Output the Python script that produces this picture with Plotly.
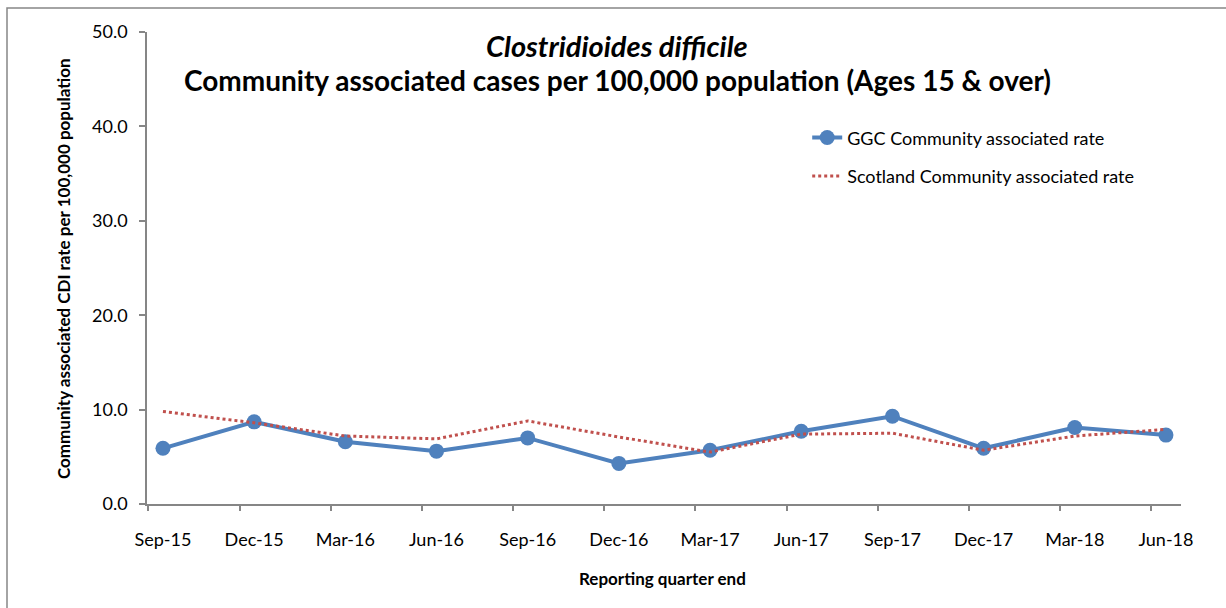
import plotly.graph_objects as go

quarters = ["Sep-15", "Dec-15", "Mar-16", "Jun-16", "Sep-16", "Dec-16",
            "Mar-17", "Jun-17", "Sep-17", "Dec-17", "Mar-18", "Jun-18"]
ggc_rate = [5.9, 8.7, 6.6, 5.6, 7.0, 4.3, 5.7, 7.7, 9.3, 5.9, 8.1, 7.3]
scotland_rate = [9.8, 8.6, 7.2, 6.9, 8.8, 7.1, 5.5, 7.4, 7.5, 5.7, 7.2, 7.9]
y_ticks = [0, 10, 20, 30, 40, 50]

FONT = "Lato"
AXIS_COL = "#868686"
idx = list(range(len(quarters)))

fig = go.Figure()
fig.add_trace(go.Scatter(
    x=idx, y=ggc_rate, mode="lines+markers", name="GGC Community associated rate",
    line=dict(color="#4F81BD", width=4), marker=dict(size=15, color="#4F81BD"),
    legendgroup="a"))
fig.add_trace(go.Scatter(
    x=idx, y=scotland_rate, mode="lines", name="Scotland Community associated rate",
    line=dict(color="#C0504D", width=3, dash="dot"), legendgroup="b"))
# invisible trace to carry the offset tick-mark axis
fig.add_trace(go.Scatter(x=[i - 0.16 for i in idx], y=[None] * len(idx), xaxis="x2",
                         showlegend=False, hoverinfo="skip"))

xr = [-0.175, 11.165]
fig.update_layout(
    width=1226, height=608,
    margin=dict(l=147, r=45, t=32, b=104),
    paper_bgcolor="white", plot_bgcolor="white",
    font=dict(family=FONT, color="black"),
    xaxis=dict(range=xr, tickmode="array", tickvals=idx, ticktext=quarters,
               showgrid=False, zeroline=False, showline=True, linecolor=AXIS_COL,
               linewidth=1.5, ticks="", tickfont=dict(size=18), ticklabelstandoff=19),
    xaxis2=dict(range=xr, overlaying="x", side="bottom", tickmode="array",
                tickvals=[i - 0.16 for i in idx], showticklabels=False,
                ticks="outside", ticklen=6, tickcolor=AXIS_COL, tickwidth=1.5,
                showgrid=False, zeroline=False, showline=False),
    yaxis=dict(range=[0, 50], tickmode="array", tickvals=y_ticks,
               ticktext=[f"{v:.1f}" for v in y_ticks], showgrid=False, zeroline=False,
               showline=True, linecolor=AXIS_COL, linewidth=1.5, ticks="outside",
               ticklen=6, tickcolor=AXIS_COL, tickwidth=1.5, tickfont=dict(size=18),
               ticklabelstandoff=8),
    legend=dict(x=0.6385, y=0.815, xanchor="left", yanchor="top",
                font=dict(size=18), tracegroupgap=12, bgcolor="rgba(0,0,0,0)"),
    showlegend=True,
)

fig.add_annotation(text="<b><i>Clostridioides difficile</i></b>", xref="paper", yref="paper",
                   x=(617 - 147) / 1034, y=(504 - 45) / 472, xanchor="center", yanchor="middle",
                   showarrow=False, font=dict(size=29))
fig.add_annotation(text="<b>Community associated cases per 100,000 population (Ages 15 &amp; over)</b>",
                   xref="paper", yref="paper", x=(617 - 147) / 1034, y=(504 - 80) / 472,
                   xanchor="center", yanchor="middle", showarrow=False, font=dict(size=28))
fig.add_annotation(text="<b>Community associated CDI rate per 100,000 population</b>",
                   xref="paper", yref="paper", x=(63 - 147) / 1034, y=(504 - 269) / 472,
                   xanchor="center", yanchor="middle", textangle=-90, showarrow=False,
                   font=dict(size=17))
fig.add_annotation(text="<b>Reporting quarter end</b>", xref="paper", yref="paper",
                   x=(662 - 147) / 1034, y=(504 - 578) / 472, xanchor="center",
                   yanchor="middle", showarrow=False, font=dict(size=17))
# chart border
fig.add_shape(type="rect", xref="paper", yref="paper",
              x0=(7 - 147) / 1034, x1=(1240 - 147) / 1034,
              y0=(504 - 640) / 472, y1=(504 - 8) / 472,
              line=dict(color=AXIS_COL, width=1.5), layer="below")

fig.write_html("out.html")
